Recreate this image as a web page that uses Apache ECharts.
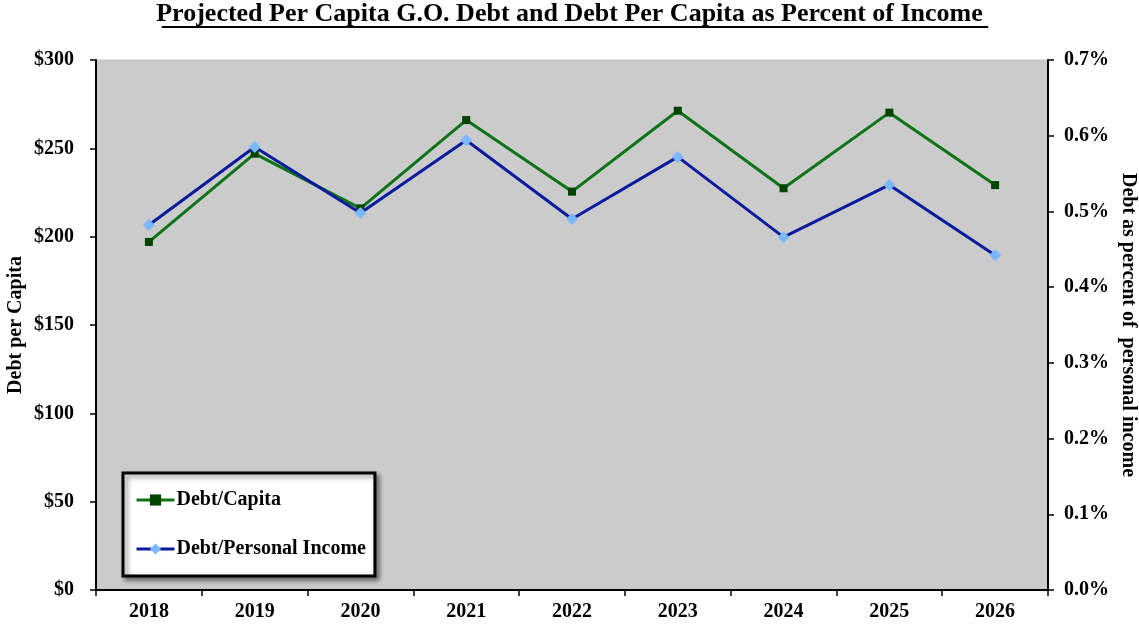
<!DOCTYPE html>
<html>
<head>
<meta charset="utf-8">
<script src="https://cdn.jsdelivr.net/npm/echarts@6/dist/echarts.min.js"></script>
<style>
  html, body { margin: 0; padding: 0; background: #fff; }
  #chart { width: 1139px; height: 628px; }
</style>
</head>
<body>
<div id="chart"></div>
<script>
var years = ['2018', '2019', '2020', '2021', '2022', '2023', '2024', '2025', '2026'];
var debtPerCapita = [197, 247, 216, 266, 225.5, 271.3, 227.4, 270.2, 229.2];
var debtPctIncome = [0.482, 0.585, 0.498, 0.594, 0.490, 0.572, 0.466, 0.535, 0.442];
var leftTicks = [0, 50, 100, 150, 200, 250, 300];
var rightTicks = [0, 0.1, 0.2, 0.3, 0.4, 0.5, 0.6, 0.7];

var titleText = 'Projected Per Capita G.O. Debt and Debt Per Capita as Percent of Income';
var serif = '"Liberation Serif", "DejaVu Serif", serif';

// measure title so the underline fits it
var cv = document.createElement('canvas').getContext('2d');
cv.font = 'bold 26px ' + serif;
var titleW = cv.measureText(titleText).width;

var myChart = echarts.init(document.getElementById('chart'));
try {
  myChart.setOption({
    animation: false,
    backgroundColor: '#ffffff',
    textStyle: { fontFamily: serif },
    graphic: [
      {
        type: 'text', left: 'center', top: 1,
        style: { text: titleText, font: 'bold 26px ' + serif, fill: '#000' }
      },
      {
        type: 'line',
        shape: { x1: 575 - titleW / 2, y1: 27, x2: 575 + titleW / 2, y2: 27 },
        style: { stroke: '#000', lineWidth: 2 }
      }
    ],
    legend: {
      orient: 'vertical',
      left: 123, top: 473,
      padding: [17, 9, 17, 12],
      itemGap: 29,
      itemWidth: 38, itemHeight: 14,
      backgroundColor: '#ffffff',
      borderColor: '#000', borderWidth: 3,
      shadowColor: 'rgba(0,0,0,0.45)', shadowBlur: 5, shadowOffsetX: 3, shadowOffsetY: 3,
      lineStyle: { width: 3 },
      textStyle: { fontFamily: serif, fontWeight: 'bold', fontSize: 20, color: '#000', padding: [0, 0, 0, -3] },
      data: ['Debt/Capita', 'Debt/Personal Income']
    },
    grid: {
      left: 96, right: 91, top: 60, bottom: 38,
      containLabel: false, outerBoundsMode: 'none',
      show: true, backgroundColor: '#cbcbcb', borderColor: '#c4c4c4', borderWidth: 1
    },
    xAxis: {
      type: 'category',
      data: years,
      boundaryGap: true,
      axisLine: { lineStyle: { color: '#000', width: 2 } },
      axisTick: { show: true, alignWithLabel: false, length: 6, lineStyle: { color: '#000', width: 1.5 } },
      axisLabel: { fontFamily: serif, fontWeight: 'bold', fontSize: 20, color: '#000', margin: 12 }
    },
    yAxis: [
      {
        type: 'value', min: 0, max: 300, interval: 50,
        name: 'Debt per Capita', nameLocation: 'middle', nameGap: 70, nameRotate: 90,
        nameMoveOverlap: false,
        nameTextStyle: { fontFamily: serif, fontWeight: 'bold', fontSize: 20, color: '#000' },
        axisLine: { show: true, lineStyle: { color: '#000', width: 2 } },
        axisTick: { show: true, length: 6, lineStyle: { color: '#000', width: 1.5 } },
        splitLine: { show: false },
        axisLabel: {
          fontFamily: serif, fontWeight: 'bold', fontSize: 20, color: '#000', margin: 22,
          formatter: function (v) { return leftTicks.indexOf(v) >= 0 ? '$' + v : ''; }
        }
      },
      {
        type: 'value', min: 0, max: 0.7, interval: 0.1, position: 'right',
        name: 'Debt as percent of  personal income', nameLocation: 'middle', nameGap: 70, nameRotate: -90,
        nameMoveOverlap: false,
        nameTextStyle: { fontFamily: serif, fontWeight: 'bold', fontSize: 20, color: '#000' },
        axisLine: { show: true, lineStyle: { color: '#000', width: 2 } },
        axisTick: { show: true, length: 6, lineStyle: { color: '#000', width: 1.5 } },
        splitLine: { show: false },
        axisLabel: {
          fontFamily: serif, fontWeight: 'bold', fontSize: 20, color: '#000', margin: 16,
          formatter: function (v) { return v.toFixed(1) + '%'; }
        }
      }
    ],
    series: [
      {
        name: 'Debt/Capita', type: 'line', yAxisIndex: 0,
        data: debtPerCapita,
        symbol: 'rect', symbolSize: 8,
        lineStyle: { color: '#0b7316', width: 3 },
        itemStyle: { color: '#004400' },
        z: 2
      },
      {
        name: 'Debt/Personal Income', type: 'line', yAxisIndex: 1,
        data: debtPctIncome,
        symbol: 'diamond', symbolSize: 12,
        lineStyle: { color: '#0a1a9c', width: 3 },
        itemStyle: { color: '#7bb8ff' },
        z: 3
      }
    ]
  });
} catch (e) { console.log(e); }
</script>
</body>
</html>
